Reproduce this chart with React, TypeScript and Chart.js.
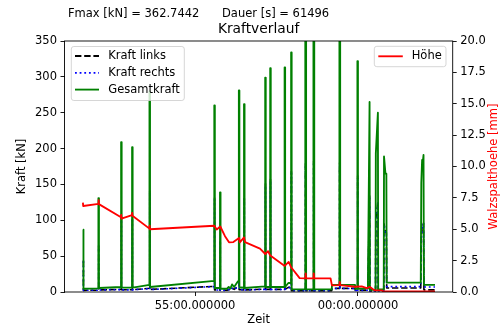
import React, { useEffect, useRef } from "react";
import { Chart, registerables } from "chart.js";

Chart.register(...registerables);

const FONT = "'DejaVu Sans', 'Liberation Sans', sans-serif";

// time in seconds relative to hh:55:00 (Gesamtkraft samples)
const kraftZeit = [
  -206.3, -205.3, -205.3, -177.8, -177.8, -176.8, -176.8, -136.0, -136.0, -135.0,
  -135.0, -115.8, -115.8, -114.8, -114.8, -83.8, -83.8, -82.8, -82.8, 35.5,
  35.5, 36.5, 36.5, 46.0, 46.0, 47.0, 47.0, 58.9, 62.0, 65.0,
  68.1, 72.0, 79.1, 80.7, 80.7, 81.7, 81.7, 86.5, 90.2, 90.2,
  91.2, 91.2, 123.0, 129.2, 129.2, 130.2, 130.2, 138.4, 138.4, 139.4,
  139.4, 164.9, 164.9, 165.9, 165.9, 171.8, 176.9, 176.9, 177.9, 177.9,
  203.0, 203.0, 204.5, 204.5, 218.0, 218.0, 219.5, 219.5, 251.6, 252.2,
  265.8, 265.8, 267.2, 267.2, 294.5, 295.0, 298.9, 298.9, 299.9, 299.9,
  318.2, 321.3, 321.9, 332.3, 332.8, 336.6, 337.2, 347.4, 347.9, 350.5,
  352.2, 352.8, 415.5, 416.5, 418.0, 419.5, 420.6, 421.3, 441.7,
];
// time samples of the left / right force channels
const kraftZeitSeite = [
  -205.4, -205.4, -205.4, -177.3, -177.3, -177.3, -177.3, -135.5, -135.5, -135.5,
  -135.5, -115.3, -115.3, -115.3, -115.3, -83.3, -83.3, -83.3, -83.3, 36.0,
  36.0, 36.0, 36.0, 46.5, 46.5, 46.5, 46.5, 58.9, 62.0, 65.0,
  68.1, 72.0, 79.1, 81.2, 81.2, 81.2, 81.2, 86.5, 90.7, 90.7,
  90.7, 90.7, 123.0, 129.7, 129.7, 129.7, 129.7, 138.9, 138.9, 138.9,
  138.9, 165.4, 165.4, 165.4, 165.4, 171.8, 177.4, 177.4, 177.4, 177.4,
  203.4, 203.4, 204.1, 204.1, 218.4, 218.4, 219.1, 219.1, 251.6, 252.2,
  266.2, 266.2, 266.8, 266.8, 294.5, 295.0, 299.4, 299.4, 299.4, 299.4,
  318.2, 321.3, 321.9, 332.3, 332.8, 336.6, 337.2, 347.4, 347.9, 350.5,
  352.2, 352.8, 415.5, 416.5, 418.0, 419.5, 420.6, 421.3, 441.7,
];
const gesamtkraft = [
  87, 87, 4.6, 5.0, 131, 131, 5.6, 7.0, 209, 209,
  6.0, 6.2, 202, 202, 6.2, 10.0, 280, 280, 7.0, 15.5,
  260, 260, 5.6, 5.6, 139, 139, 4.6, 4.6, 7.0, 4.6,
  10.5, 7.0, 15.0, 15.0, 281, 281, 6.0, 6.5, 5.5, 262,
  262, 5.6, 7.5, 7.5, 299, 299, 7.0, 7.0, 312, 312,
  7.0, 7.0, 313, 313, 7.0, 12.5, 12.5, 334, 334, 3.7,
  3.7, 355, 352, 3.7, 3.7, 362.7, 360, 3.7, 3.7, 10.0,
  10.0, 358, 352, 10.0, 10.0, 4.6, 4.6, 322, 322, 4.6,
  5.0, 265, 3.0, 3.0, 193, 250, 3.5, 4.0, 189, 165,
  165, 13.0, 13.0, 152, 184, 183, 191, 10.0, 10.0,
];
const kraftRechts = [
  43, 43, 2.3, 2.5, 65, 65, 2.7, 3.4, 104, 104,
  2.9, 3.0, 100, 100, 3.0, 4.8, 139, 139, 3.4, 7.6,
  129, 129, 2.7, 2.7, 69, 69, 2.2, 2.2, 3.4, 2.2,
  5.1, 3.4, 7.3, 7.3, 140, 140, 2.9, 3.2, 2.7, 130,
  130, 2.7, 3.6, 3.6, 148, 148, 3.4, 3.4, 155, 155,
  3.4, 3.4, 156, 156, 3.4, 6.1, 6.1, 166, 166, 1.8,
  1.8, 176, 175, 1.8, 1.8, 180, 179, 1.8, 1.8, 4.9,
  4.9, 178, 175, 4.9, 4.9, 2.2, 2.2, 160, 160, 2.2,
  2.4, 131, 1.5, 1.5, 96, 124, 1.7, 2.0, 94, 82,
  82, 7.5, 7.5, 75, 92, 91, 95, 7.0, 7.0,
];
const kraftLinks = [
  44, 44, 2.3, 2.5, 66, 66, 2.9, 3.6, 105, 105,
  3.1, 3.2, 102, 102, 3.2, 5.2, 141, 141, 3.6, 7.9,
  131, 131, 2.9, 2.9, 70, 70, 2.4, 2.4, 3.6, 2.4,
  5.4, 3.6, 7.7, 7.7, 141, 141, 3.1, 3.3, 2.8, 132,
  132, 2.9, 3.9, 3.9, 151, 151, 3.6, 3.6, 157, 157,
  3.6, 3.6, 157, 157, 3.6, 6.4, 6.4, 168, 168, 1.9,
  1.9, 179, 177, 1.9, 1.9, 182.7, 181, 1.9, 1.9, 5.1,
  5.1, 180, 177, 5.1, 5.1, 2.4, 2.4, 162, 162, 2.4,
  2.6, 134, 1.5, 1.5, 97, 126, 1.8, 2.0, 95, 83,
  83, 5.5, 5.5, 77, 92, 92, 96, 3.0, 3.0,
];

const hoeheZeit = [
  -206.3, -205.8, -177.6, -177.3, -176.9, -136.2, -135.8, -135.3, -116.0, -115.6,
  -115.1, -83.8, -83.5, -83.1, 35.5, 40.0, 46.5, 55.2, 62.6, 70.6,
  81.0, 82.5, 90.3, 92.0, 119.6, 129.4, 134.5, 138.6, 165.1, 172.4,
  177.2, 192.6, 203.4, 203.7, 204.4, 218.2, 218.5, 219.2, 249.5, 252.0,
  266.0, 266.4, 267.2, 294.5, 306.8, 316.0, 322.0, 328.2, 331.3, 343.6,
  346.6, 441.7,
];
const hoehe = [
  7.12, 6.85, 7.02, 7.32, 7.0, 5.95, 6.15, 5.85, 6.12, 6.3,
  6.08, 5.05, 5.28, 5.0, 5.28, 4.98, 5.22, 4.45, 3.96, 3.98,
  4.3, 3.96, 4.35, 3.98, 3.45, 3.03, 3.25, 2.9, 2.08, 2.4,
  1.95, 1.1, 1.09, 1.49, 1.09, 1.09, 1.49, 1.09, 1.09, 0.53,
  0.55, 0.8, 0.55, 0.42, 0.45, 0.3, 0.4, 0.2, 0.13, 0.13,
  0.04, 0.04,
];

const xTickValues = [0, 300];
const xTickLabels = ["55:00.000000", "00:00.000000"];
const fmaxText = "Fmax [kN] = 362.7442";
const dauerText = "Dauer [s] = 61496";
const titleText = "Kraftverlauf";
const xLabel = "Zeit";
const yLabel = "Kraft [kN]";
const y2Label = "Walzspalthoehe [mm]";
const legendLeft = ["Kraft links", "Kraft rechts", "Gesamtkraft"];
const legendRight = ["Höhe"];

const LW = 1.85;
const LW_SIDE = 1.6;
const SOLID = [1000, 0];
const DASHED = [6.4, 2.8];
const DOTTED = [1.8, 2.85];

export default function App() {
  const ref = useRef<HTMLCanvasElement>(null);

  useEffect(() => {
    const canvas = ref.current;
    if (!canvas) return;
    const pts = (xs: number[], ys: number[]) => xs.map((x, i) => ({ x, y: ys[i] }));

    const roundRect = (ctx: CanvasRenderingContext2D, x: number, y: number, w: number, h: number, r: number) => {
      ctx.beginPath();
      ctx.moveTo(x + r, y);
      ctx.lineTo(x + w - r, y);
      ctx.arcTo(x + w, y, x + w, y + r, r);
      ctx.lineTo(x + w, y + h - r);
      ctx.arcTo(x + w, y + h, x + w - r, y + h, r);
      ctx.lineTo(x + r, y + h);
      ctx.arcTo(x, y + h, x, y + h - r, r);
      ctx.lineTo(x, y + r);
      ctx.arcTo(x, y, x + r, y, r);
      ctx.closePath();
    };

    const drawLegend = (
      ctx: CanvasRenderingContext2D,
      box: [number, number, number, number],
      items: { label: string; color: string; dash: number[]; y: number; w: number }[],
      lx1: number,
      lx2: number,
      tx: number
    ) => {
      ctx.save();
      roundRect(ctx, box[0], box[1], box[2] - box[0], box[3] - box[1], 2.5);
      ctx.fillStyle = "rgba(255,255,255,0.8)";
      ctx.fill();
      ctx.strokeStyle = "rgba(204,204,204,0.8)";
      ctx.lineWidth = 1;
      ctx.stroke();
      for (const it of items) {
        ctx.beginPath();
        ctx.setLineDash(it.dash);
        ctx.strokeStyle = it.color;
        ctx.lineWidth = it.w;
        ctx.moveTo(lx1, it.y);
        ctx.lineTo(lx2, it.y);
        ctx.stroke();
        ctx.setLineDash([]);
        ctx.fillStyle = "#000";
        ctx.font = `11.5px ${FONT}`;
        ctx.textAlign = "left";
        ctx.textBaseline = "middle";
        ctx.fillText(it.label, tx, it.y);
      }
      ctx.restore();
    };

    const overlay = {
      id: "overlay",
      afterDatasetsDraw(chart: any) {
        const ctx: CanvasRenderingContext2D = chart.ctx;
        const a = chart.chartArea;
        ctx.save();
        ctx.strokeStyle = "#000";
        ctx.lineWidth = 0.9;
        ctx.setLineDash([]);
        ctx.strokeRect(a.left, a.top, a.right - a.left, a.bottom - a.top);
        ctx.restore();

        drawLegend(
          ctx,
          [71.3, 46.5, 184.3, 100.5],
          [
            { label: legendLeft[0], color: "#000", dash: DASHED, y: 56, w: 1.8 },
            { label: legendLeft[1], color: "#0000ff", dash: DOTTED, y: 72.8, w: 1.8 },
            { label: legendLeft[2], color: "#008000", dash: [], y: 89.6, w: LW },
          ],
          75,
          99,
          108.3
        );
        drawLegend(
          ctx,
          [374.3, 46.3, 446, 66.7],
          [{ label: legendRight[0], color: "#ff0000", dash: [], y: 56.3, w: LW }],
          378.3,
          402.8,
          411.7
        );
      },
      afterDraw(chart: any) {
        const ctx: CanvasRenderingContext2D = chart.ctx;
        const a = chart.chartArea;
        const cx = (a.left + a.right) / 2;
        const cy = (a.top + a.bottom) / 2;
        ctx.save();
        ctx.fillStyle = "#000";
        ctx.textBaseline = "middle";
        ctx.textAlign = "left";
        ctx.font = `11.5px ${FONT}`;
        ctx.fillText(fmaxText, 68, 14);
        ctx.fillText(dauerText, 222, 14);
        ctx.textAlign = "center";
        ctx.font = `13.8px ${FONT}`;
        ctx.fillText(titleText, cx, 29.5);
        ctx.font = `11.5px ${FONT}`;
        ctx.fillText(xLabel, cx, 320);
        ctx.save();
        ctx.translate(22.5, cy);
        ctx.rotate(-Math.PI / 2);
        ctx.fillText(yLabel, 0, 0);
        ctx.restore();
        ctx.save();
        ctx.translate(494, cy);
        ctx.rotate(-Math.PI / 2);
        ctx.fillStyle = "#ff0000";
        ctx.fillText(y2Label, 0, 0);
        ctx.restore();
        ctx.restore();
      },
    };

    const tickFont = { family: FONT, size: 11.5 };
    const gridCfg = {
      display: true,
      drawOnChartArea: false,
      drawTicks: true,
      tickLength: 4,
      color: "#000",
      lineWidth: 0.9,
    };

    const lineDs = (
      label: string,
      data: any[],
      axis: string,
      color: string,
      dash: number[],
      order: number,
      width: number
    ) => ({
      label,
      data,
      yAxisID: axis,
      borderColor: color,
      borderWidth: width,
      borderDash: dash,
      pointRadius: 0,
      tension: 0,
      fill: false,
      order,
      borderJoinStyle: "round",
    });

    const chart = new Chart(canvas, {
      type: "line",
      data: {
        datasets: [
          lineDs("Höhe", pts(hoeheZeit, hoehe), "y2", "#ff0000", SOLID, 0, LW),
          lineDs("Gesamtkraft", pts(kraftZeit, gesamtkraft), "y", "#008000", SOLID, 1, LW),
          lineDs("Kraft rechts", pts(kraftZeitSeite, kraftRechts), "y", "#0000ff", DOTTED, 2, LW_SIDE),
          lineDs("Kraft links", pts(kraftZeitSeite, kraftLinks), "y", "#000000", DASHED, 3, LW_SIDE),
        ],
      },
      options: {
        animation: false,
        responsive: false,
        devicePixelRatio: 1,
        layout: { padding: { top: 41, left: 0, right: 0, bottom: 0 } },
        plugins: {
          legend: { display: false },
          title: { display: false },
          tooltip: { enabled: false },
        },
        scales: {
          x: {
            type: "linear",
            min: -240.2,
            max: 474.3,
            grid: gridCfg,
            border: { display: false },
            afterBuildTicks: (scale: any) => {
              scale.ticks = xTickValues.map((v) => ({ value: v }));
            },
            afterFit: (scale: any) => {
              scale.height = 34;
            },
            ticks: {
              autoSkip: false,
              maxRotation: 0,
              padding: 3.5,
              color: "#000",
              font: tickFont,
              callback: (_v: any, i: number) => xTickLabels[i],
            },
          },
          y: {
            type: "linear",
            position: "left",
            min: 0,
            max: 350,
            grid: gridCfg,
            border: { display: false },
            afterFit: (scale: any) => {
              scale.width = 64.5;
            },
            ticks: {
              stepSize: 50,
              padding: 3.5,
              color: "#000",
              font: tickFont,
            },
          },
          y2: {
            type: "linear",
            position: "right",
            min: 0,
            max: 20,
            grid: gridCfg,
            border: { display: false },
            afterFit: (scale: any) => {
              scale.width = 47.3;
            },
            ticks: {
              stepSize: 2.5,
              padding: 3.5,
              color: "#000",
              font: tickFont,
              callback: (v: any) => Number(v).toFixed(1),
            },
          },
        },
      },
      plugins: [overlay],
    } as any);

    return () => chart.destroy();
  }, []);

  return (
    <div style={{ position: "fixed", left: 0, top: 0, width: 500, height: 326, background: "#fff" }}>
      <canvas ref={ref} width={500} height={326} style={{ display: "block" }} />
    </div>
  );
}
